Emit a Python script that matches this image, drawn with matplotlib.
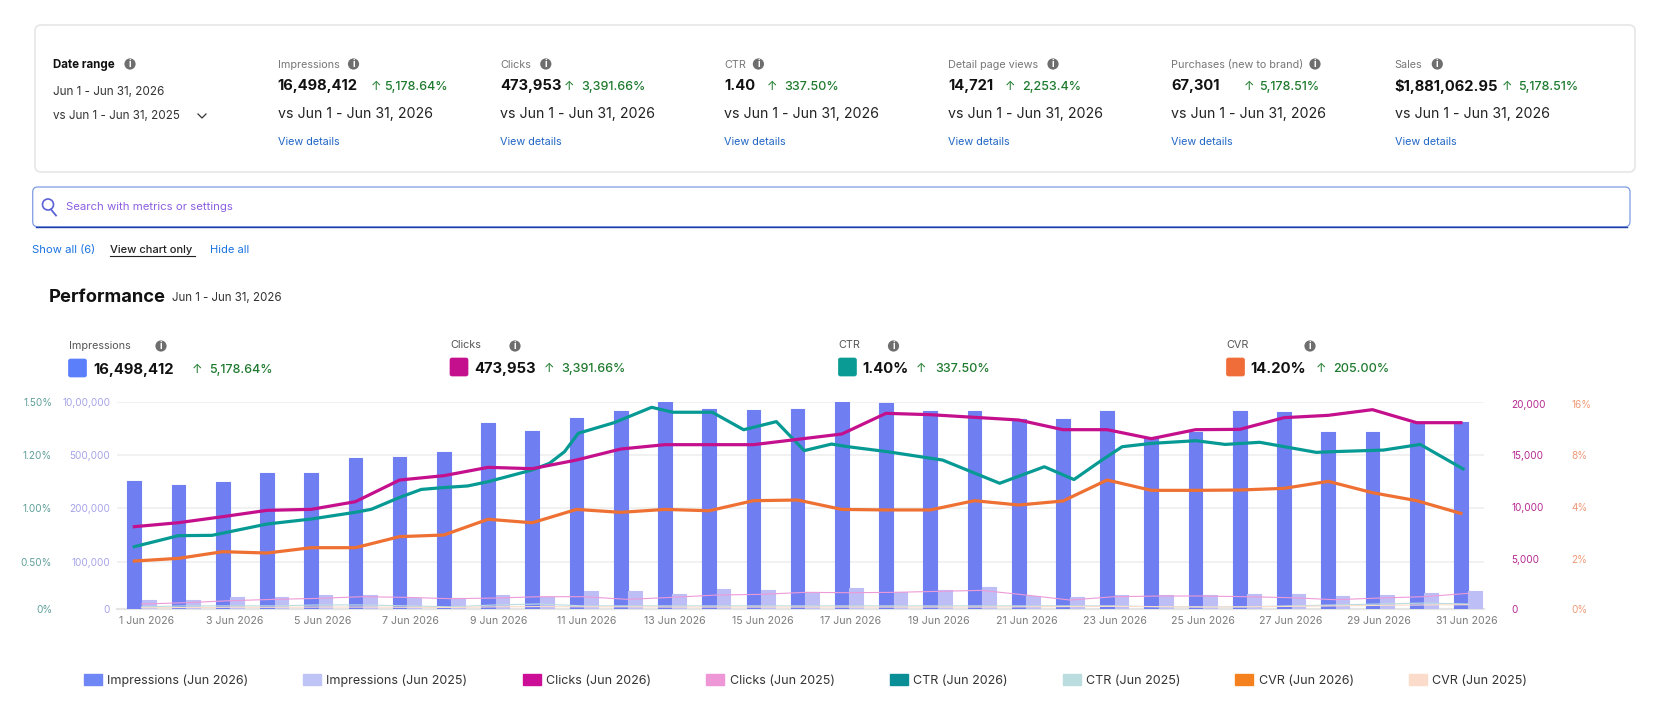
import numpy as np
import matplotlib
matplotlib.use("Agg")
import matplotlib.pyplot as plt
from matplotlib.patches import FancyBboxPatch, Circle, Patch
from matplotlib.transforms import ScaledTranslation

plt.rcParams['font.family'] = ['Inter', 'DejaVu Sans']

# ---- chart data ----
days = list(range(31))
tick_labels = [f"{d} Jun 2026" for d in range(1, 32, 2)]

impressions_2026 = [354000, 331000, 346000, 399000, 399000, 483000, 489000, 528000, 799000, 726000,
                    852000, 912000, 1000000, 934000, 925000, 934000, 1000000, 990000, 915000, 915000,
                    836000, 840000, 915000, 667000, 720000, 915000, 909000, 717000, 717000, 805000, 808000]
impressions_2025 = [18400, 18400, 24100, 24100, 29800, 29800, 23400, 22000, 28400, 25500,
                    38300, 38300, 30500, 41100, 39700, 35500, 43300, 36200, 39000, 45400,
                    27000, 24800, 28400, 28400, 28400, 30500, 30500, 26200, 28400, 32600, 38300]
clicks_2026 = [8281, 8656, 9219, 9813, 9906, 10625, 12656, 13063, 13844, 13719,
               14531, 15566, 15975, 15975, 15975, 16478, 16981, 18931, 18805, 18553,
               18302, 17390, 17390, 16541, 17390, 17421, 18522, 18742, 19277, 18050, 18050]
clicks_2025 = [496, 638, 851, 993, 1099, 1277, 1206, 1064, 1135, 1277,
               1277, 993, 1206, 1454, 1525, 1738, 1702, 1738, 1844, 1950,
               1454, 922, 1277, 1348, 1348, 1277, 1170, 957, 1135, 1277, 1631]
ctr_2026_days = [0, 1, 1.76, 3, 4, 5, 5.36, 6, 6.49, 7, 7.54, 8, 9, 9.39, 9.73, 10.04, 10.85, 11.70,
                 12.18, 13.07, 13.78, 14.52, 15.15, 15.77, 16.14, 17.03, 18.28, 19.57, 20.58, 21.25,
                 21.83, 22.34, 23.01, 24.01, 24.67, 25.45, 26.73, 27.1, 28.25, 29.08, 30.05]
ctr_2026 = [0.641, 0.744, 0.747, 0.853, 0.90, 0.963, 0.991, 1.041, 1.071, 1.078, 1.084, 1.10, 1.144,
            1.169, 1.219, 1.323, 1.383, 1.470, 1.442, 1.442, 1.343, 1.389, 1.225, 1.262, 1.247, 1.219,
            1.181, 1.094, 1.156, 1.108, 1.175, 1.247, 1.266, 1.281, 1.260, 1.272, 1.215, 1.219, 1.228,
            1.260, 1.148]
ctr_2025 = [0.02, 0.03, 0.03, 0.03, 0.04, 0.04, 0.03, 0.02, 0.04, 0.05,
            0.03, 0.03, 0.03, 0.03, 0.03, 0.03, 0.03, 0.03, 0.03, 0.03,
            0.03, 0.03, 0.03, 0.02, 0.02, 0.02, 0.03, 0.04, 0.05, 0.06, 0.05]
cvr_2026 = [2.025, 2.125, 2.375, 2.325, 2.525, 2.525, 2.94, 3.0, 3.59, 3.46,
            3.96, 3.85, 3.96, 3.91, 4.575, 4.625, 3.96, 3.94, 3.94, 4.575,
            4.25, 4.55, 6.125, 5.35, 5.35, 5.375, 5.5, 6.025, 5.175, 4.575, 3.81]
cvr_2025 = [0.04, 0.05, 0.06, 0.06, 0.07, 0.07, 0.06, 0.05, 0.08, 0.09,
            0.08, 0.08, 0.07, 0.07, 0.07, 0.07, 0.07, 0.07, 0.07, 0.07,
            0.08, 0.09, 0.10, 0.09, 0.07, 0.08, 0.10, 0.12, 0.14, 0.16, 0.17]

# Tick stops of each axis; the four upper bands are evenly spaced on screen
band_stops = [0, 0.2274, 0.4855, 0.7435, 1.0]   # fraction of axis height at each stop
imp_ticks = [0, 100000, 200000, 500000, 1000000]
imp_labels = ["0", "100,000", "200,000", "500,000", "10,00,000"]
ctr_ticks = [0, 0.5, 1.0, 1.2, 1.5]
ctr_labels = ["0%", "0.50%", "1.00%", "1.20%", "1.50%"]
clk_ticks = [0, 5000, 10000, 15000, 20000]
clk_labels = ["0", "5,000", "10,000", "15,000", "20,000"]
cvr_ticks = [0, 2, 4, 8, 16]
cvr_labels = ["0%", "2%", "4%", "8%", "16%"]

# ---- summary strip data ----
card_titles = ["Impressions", "Clicks", "CTR", "Detail page views", "Purchases (new to brand)", "Sales"]
card_values = ["16,498,412", "473,953", "1.40", "14,721", "67,301", "$1,881,062.95"]
card_changes = ["5,178.64%", "3,391.66%", "337.50%", "2,253.4%", "5,178.51%", "5,178.51%"]
kpi_titles = ["Impressions", "Clicks", "CTR", "CVR"]
kpi_values = ["16,498,412", "473,953", "1.40%", "14.20%"]
kpi_changes = ["5,178.64%", "3,391.66%", "337.50%", "205.00%"]

IMP, IMP_L = "#6F7FF2", "#BDBEF6"
CLK, CLK_L = "#C4108C", "#EE9AD8"
CTR, CTR_L = "#079A94", "#BBDDDF"
CVR, CVR_L = "#EE7033", "#FBDCCB"
GREEN = "#1E7A2E"
LINK = "#2166C4"

W, H = 1671, 713
fig = plt.figure(figsize=(W / 100, H / 100), dpi=100, facecolor="white")
PT = 0.72  # points per pixel at this dpi


def piecewise_scale(axis_obj, ticks):
    """Place the uneven tick stops at their fixed screen fractions."""
    fwd = lambda v: np.interp(v, ticks, band_stops)
    inv = lambda f: np.interp(f, band_stops, ticks)
    axis_obj.set_yscale("function", functions=(fwd, inv))
    axis_obj.set_ylim(ticks[0], ticks[-1])
    axis_obj.set_yticks(ticks)
    axis_obj.minorticks_off()


# ---- plot area ----
L, R, T, B = 117, 1484, 402, 608.7
ax = fig.add_axes([L / W, 1 - B / H, (R - L) / W, (B - T) / H])
ax.set_xlim(-0.554, 30.36)
x = np.array(days, dtype=float)
half = 0.163

piecewise_scale(ax, imp_ticks)
ax.set_axisbelow(True)
ax.grid(axis="y", color="#EDEDED", lw=1.1)
ax.bar(x - half, impressions_2026, width=0.31, color=IMP, edgecolor=IMP, linewidth=0.8,
       joinstyle="round", zorder=2)
ax.bar(x + half, impressions_2025, width=0.31, color=IMP_L, edgecolor=IMP_L, linewidth=0.8,
       joinstyle="round", zorder=2)
ax.set_yticklabels(imp_labels, color="#A6A4E8", fontsize=7.2)
ax.tick_params(axis="y", length=0, pad=7 * PT)
for s in ("top", "left", "right"):
    ax.spines[s].set_visible(False)
ax.spines["bottom"].set_color("#E4E4E4")
ax.spines["bottom"].set_linewidth(1.6)
ax.spines["bottom"].set_zorder(1)
ax.set_xticks(np.arange(0, 31, 2) * 0.995 + 0.115)
ax.set_xticklabels(tick_labels, color="#7C7C7C", fontsize=7.6)
ax.tick_params(axis="x", length=0, pad=7 * PT)


def twin(ticks, labels, color, side, pad_px, offsets=None):
    a = ax.twinx()
    a.set_xlim(ax.get_xlim())
    piecewise_scale(a, ticks)
    a.set_yticklabels(labels, color=color, fontsize=7.2)
    a.yaxis.set_ticks_position(side)
    a.tick_params(axis="y", length=0, pad=pad_px * PT)
    for s in a.spines.values():
        s.set_visible(False)
    a.patch.set_visible(False)
    if offsets:
        for lab, dy in zip(a.get_yticklabels(), offsets):
            lab.set_transform(lab.get_transform() + ScaledTranslation(0, dy * PT / 72, fig.dpi_scale_trans))
    return a


ax_ctr = twin(ctr_ticks, ctr_labels, "#5F9F99", "left", 65)
ax_clk = twin(clk_ticks, clk_labels, "#B52A90", "right", 27, [0, 2.5, 1.5, 0.3, -2])
ax_cvr = twin(cvr_ticks, cvr_labels, "#EE9A78", "right", 87, [0, 2.5, 1.5, 0, -2])

line_x = x - half
ax_clk.plot(line_x + half, clicks_2025, color=CLK_L, lw=0.8, zorder=3)
ax_ctr.plot(line_x + half, ctr_2025, color=CTR_L, lw=0.8, zorder=3)
ax_cvr.plot(line_x + half, cvr_2025, color=CVR_L, lw=0.8, zorder=3)
ax_cvr.plot(line_x, cvr_2026, color=CVR, lw=2.3, zorder=4, solid_joinstyle="round")
ax_clk.plot(line_x, clicks_2026, color=CLK, lw=2.3, zorder=4, solid_joinstyle="round")
ax_ctr.plot(np.array(ctr_2026_days) - half, ctr_2026, color=CTR, lw=2.3, zorder=4, solid_joinstyle="round")

# ---- legend ----
legend_items = [("Impressions (Jun 2026)", "#6F86F5"), ("Impressions (Jun 2025)", "#BFC4F7"),
                ("Clicks (Jun 2026)", "#CC0E97"), ("Clicks (Jun 2025)", "#EE96D6"),
                ("CTR (Jun 2026)", "#0A8F96"), ("CTR (Jun 2025)", "#BBDDE0"),
                ("CVR (Jun 2026)", "#F5801E"), ("CVR (Jun 2025)", "#FBDCCB")]
fig.legend(handles=[Patch(facecolor=c, edgecolor=c, label=t) for t, c in legend_items],
           loc="center left", bbox_to_anchor=(83.5 / W, 1 - 680.7 / H), ncol=8, frameon=False,
           fontsize=9, labelcolor="#333333", handlelength=1.44, handleheight=0.95, handletextpad=0.43,
           columnspacing=4.4, borderpad=0, borderaxespad=0)

# ---- page furniture on a full-figure pixel canvas ----
ui = fig.add_axes([0, 0, 1, 1], zorder=10)
ui.set_xlim(0, W)
ui.set_ylim(H, 0)
ui.axis("off")
ui.patch.set_visible(False)


def label(px, py, s, size=8, color="#222222", weight="normal", **kw):
    return ui.text(px, py + 0.8, s, fontsize=size, color=color, fontweight=weight, va="center",
                   ha=kw.pop("ha", "left"), **kw)


def info(px, py):
    ui.add_patch(Circle((px, py), 5.6, fc="#6E6E6E", ec="none"))
    ui.text(px, py + 0.3, "i", fontsize=7, color="white", fontweight="bold", ha="center", va="center")


def box(x0, y0, x1, y1, rad, fc, ec, lw=1.0):
    ui.add_patch(FancyBboxPatch((x0 + rad, y0 + rad), x1 - x0 - 2 * rad, y1 - y0 - 2 * rad,
                                boxstyle=f"round,pad={rad},rounding_size={rad}", fc=fc, ec=ec, lw=lw))


box(35, 25, 1635, 172, 6, "white", "#E6E6E6", 1.2)
label(53, 64, "Date range", 8.3, "#111111", "bold")
info(130, 64)
label(53, 91, "Jun 1 - Jun 31, 2026", 8.4, "#333333")
label(53, 115, "vs Jun 1 - Jun 31, 2025", 8.4, "#333333")
ui.plot([198, 202, 206], [114, 118, 114], color="#333333", lw=0.9)

col_x = [277.8, 500.1, 724, 948, 1171, 1394.6]
icon_x = [353.5, 545.8, 758.4, 1053, 1315, 1437.3]
arrow_x = [375.5, 569.4, 772.4, 1010, 1248.5, 1506.5]
pct_x = [384, 581.7, 784.7, 1022.6, 1259, 1518.3]
for i in range(6):
    label(col_x[i], 64, card_titles[i], 7.8, "#777777")
    info(icon_x[i], 64)
    label(col_x[i], 85.5, card_values[i], 10.6, "#111111", "bold")
    label(arrow_x[i], 86, "↑", 9, GREEN, ha="center")
    label(pct_x[i], 86, card_changes[i], 9, GREEN, "medium")
    label(col_x[i], 113.5, "vs Jun 1 - Jun 31, 2026", 10.2, "#222222")
    label(col_x[i], 141, "View details", 7.8, LINK)

# search bar: dark lower edge under a lighter outline
box(32.7, 187, 1630, 226.7, 5, "white", "#7F9BE3", 0.9)
ui.plot([36, 1627], [226.7, 226.7], color="#1F3FA8", lw=1.0)
ui.add_patch(Circle((48, 204.5), 5.5, fc="none", ec="#5A62D8", lw=1.2))
ui.plot([51, 56], [209.5, 215.5], color="#5A62D8", lw=1.3)
label(66.4, 206.7, "Search with metrics or settings", 8.2, "#8C5FE0")

label(32, 249.5, "Show all (6)", 8.1, "#1A73E0")
label(110, 249.5, "View chart only", 8, "#222222", "medium")
ui.plot([110, 195], [255.5, 255.5], color="#222222", lw=0.8)
label(210, 249, "Hide all", 8, "#1A73E0")

label(48.7, 296.5, "Performance", 13.2, "#111111", "bold")
label(172, 297, "Jun 1 - Jun 31, 2026", 8.3, "#333333")

kpi_x = [68.5, 450, 838.4, 1226.5]
kpi_icon = [161, 515, 893.5, 1310]
kpi_val = [93, 474.6, 862, 1250.5]
kpi_arrow = [196.5, 548.5, 921.4, 1320.6]
kpi_pct = [209, 561, 934.8, 1333.6]
kpi_y = [0, -1, -1, -1]
kpi_color = ["#5B7FFA", CLK, "#0A9C94", "#F06C38"]
for i in range(4):
    dy = kpi_y[i]
    label(kpi_x[i], 345.5 + dy, kpi_titles[i], 7.8, "#555555")
    info(kpi_icon[i], 346)
    box(kpi_x[i], 359 + dy, kpi_x[i] + 18, 377 + dy, 2, kpi_color[i], kpi_color[i], 0.5)
    label(kpi_val[i], 369.5 + dy, kpi_values[i], 10.7, "#111111", "bold")
    label(kpi_arrow[i], 369.5 + dy, "↑", 9, GREEN, ha="center")
    label(kpi_pct[i], 369.5 + dy, kpi_changes[i], 9, GREEN, "medium")

fig.savefig("out.png", dpi=100, facecolor="white")
